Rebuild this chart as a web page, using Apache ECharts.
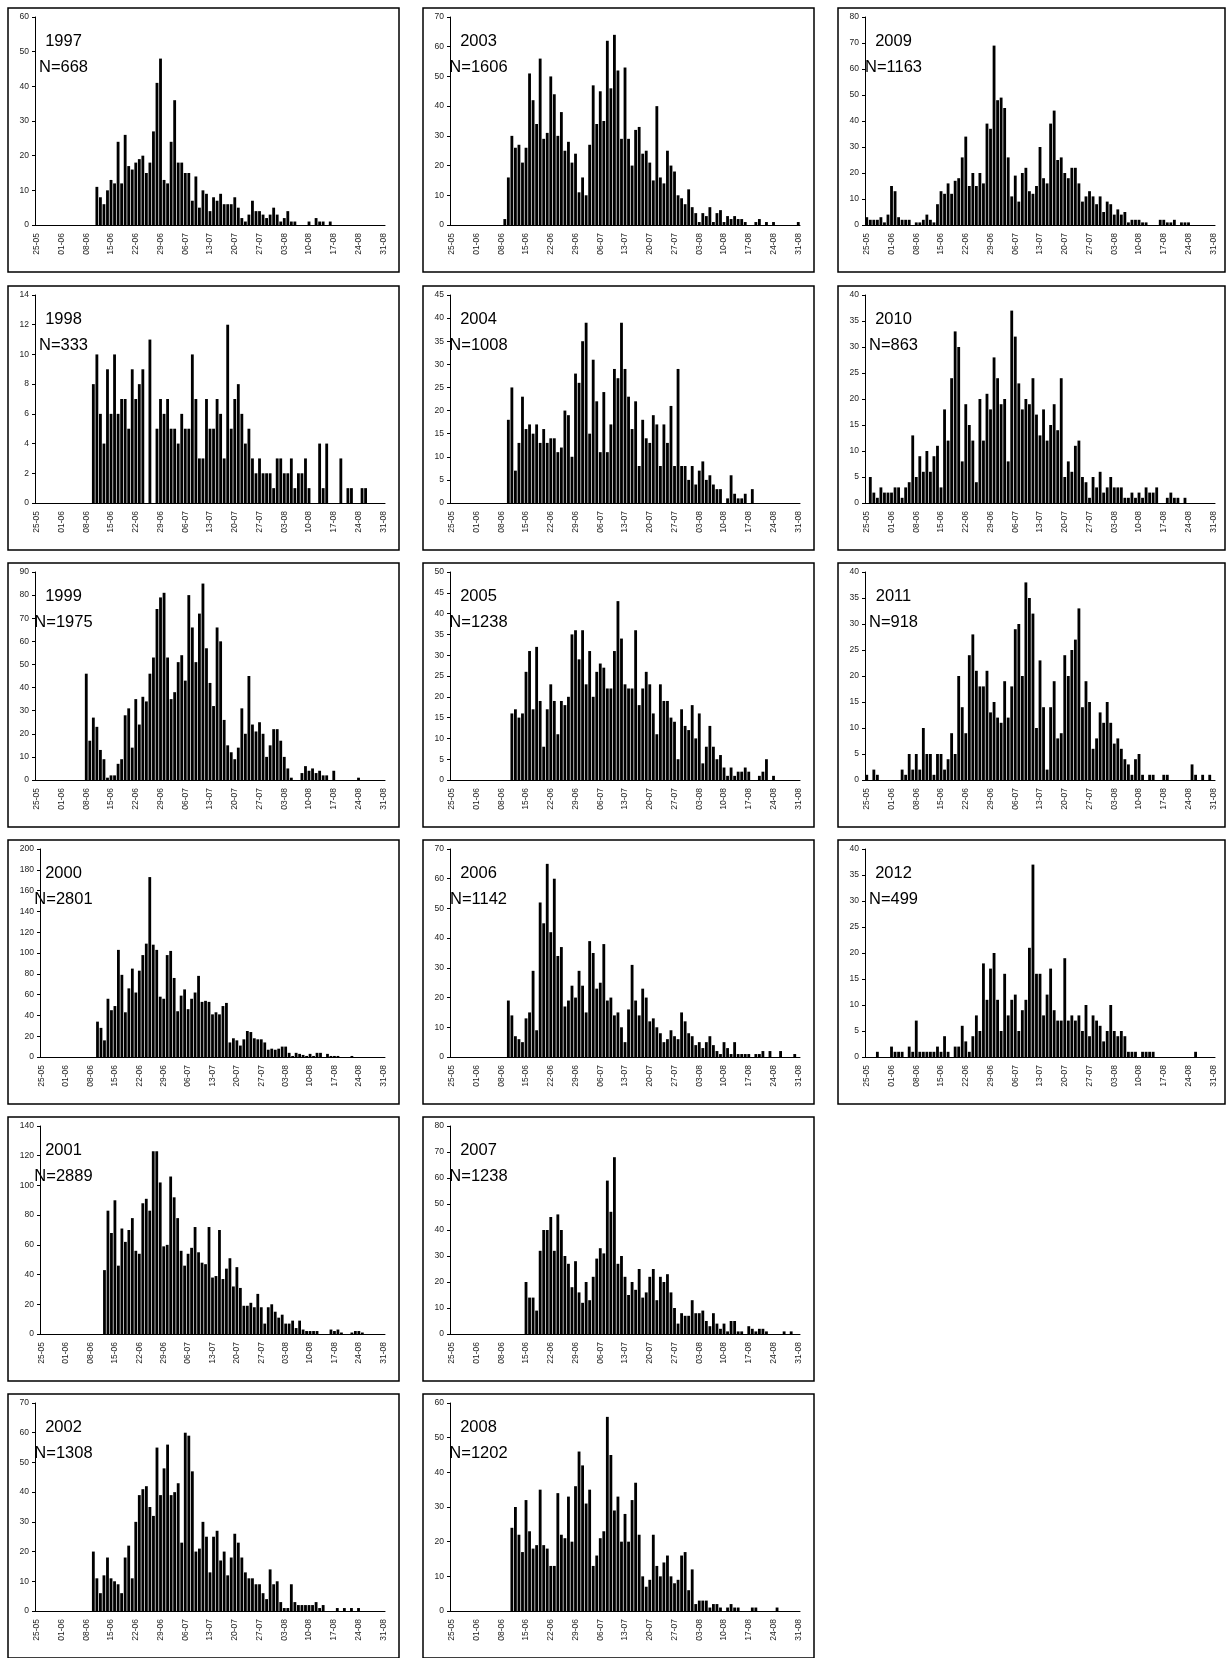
<!DOCTYPE html>
<html>
<head>
<meta charset="utf-8">
<script src="https://cdn.jsdelivr.net/npm/echarts@6/dist/echarts.min.js"></script>
<style>
  html, body { margin: 0; padding: 0; background: #fff; }
  #main { width: 1226px; height: 1658px; }
</style>
</head>
<body>
<div id="main"></div>
<script>
// daily counts, each array starts at day index firstDay[k] (0 = 25-05)
var years    = [1997, 1998, 1999, 2000, 2001, 2002, 2003, 2004, 2005, 2006, 2007, 2008, 2009, 2010, 2011, 2012];
var nLabels  = [668, 333, 1975, 2801, 2889, 1308, 1606, 1008, 1238, 1142, 1238, 1202, 1163, 863, 918, 499];
var yMax     = [60, 14, 90, 200, 140, 70, 70, 45, 50, 70, 80, 60, 80, 40, 40, 40];
var yStep    = [10, 2, 10, 20, 20, 10, 10, 5, 5, 10, 10, 10, 10, 5, 5, 5];
var firstDay = [17, 16, 14, 16, 18, 16, 15, 16, 17, 16, 21, 17, 0, 1, 0, 0];

var v1997 = [11,8,6,10,13,12,24,12,26,17, 16,18,19,20,15,18,27,41,48,13, 12,24,36,18,18,15,15,7,14,5,
  10,9,4,8,7,9,6,6,6,8, 5,2,1,3,7,4,4,3,2,3, 5,3,1,2,4,1,1,0,0,0, 1,0,2,1,1,0,1];
var v1998 = [8,10,6,4,9,6,10,6,7,7, 5,9,7,8,9,0,11,0,5,7, 6,7,5,5,4,6,5,5,10,7, 3,3,7,5,5,7,6,3,12,5,
  7,8,6,4,5,3,2,3,2,2, 2,1,3,3,2,2,3,1,2,2, 3,1,0,0,4,1,4,0,0,0, 3,0,1,1,0,0,1,1];
var v1999 = [46,17,27,23,13,9,1,2,2,7, 9,28,31,14,35,24,36,34,46,53, 74,79,81,53,35,38,51,54,43,80,
  66,51,72,85,57,42,32,66,60,26, 15,12,9,14,31,20,45,24,21,25, 20,10,15,22,22,17,10,5,1,0,
  0,3,6,4,5,3,4,2,2,0, 4,0,0,0,0,0,0,1];
var v2000 = [34,28,16,56,45,49,103,79,43,66, 85,62,83,98,109,173,108,103,58,56, 98,102,76,44,59,65,46,56,62,78,
  53,54,53,41,43,41,49,52,14,18, 16,11,17,25,24,18,17,17,14,7, 8,7,8,10,10,4,1,4,3,2,
  1,3,1,4,4,0,3,1,1,1, 0,0,0,1];
var v2001 = [43,83,68,90,46,71,62,70,78,56, 54,88,91,83,123,123,102,59,60,106, 92,78,56,46,54,58,72,55,48,47,
  72,38,39,70,37,44,51,32,45,31, 19,19,21,18,27,18,7,18,20,15, 11,13,7,7,9,4,9,3,2,2,
  2,2,0,0,0,3,2,3,1,0, 0,1,2,2,1];
var v2002 = [20,11,6,12,18,11,10,9,6,18, 22,11,30,39,41,42,35,32,55,39, 48,56,39,40,43,23,60,59,47,20,
  21,30,25,13,25,27,17,20,12,18, 26,23,18,13,11,11,9,9,6,4, 14,9,10,3,1,1,9,3,2,2,
  2,2,2,3,1,2,0,0,0,1, 0,1,0,1,0,1];
var v2003 = [2,16,30,26,27,21,26,51,42,34, 56,29,31,50,44,30,38,25,28,21, 24,11,16,10,27,47,34,45,35,62,
  46,64,52,29,53,29,20,32,33,24, 25,21,15,40,16,14,25,20,18,10, 9,7,12,6,4,1,4,3,6,1,
  4,5,1,3,2,3,2,2,1,0, 0,1,2,0,1,0,1,0,0,0, 0,0,0,1];
var v2004 = [18,25,7,13,23,16,17,15,17,13, 16,13,14,14,11,12,20,19,10,28, 26,35,39,15,31,22,11,24,11,17,
  29,27,39,29,23,16,22,8,18,14, 13,19,17,8,17,13,21,8,29,8, 8,5,8,4,7,9,5,6,4,3,
  3,0,1,6,2,1,1,2,0,3];
var v2005 = [16,17,15,16,26,31,17,32,19,8, 17,23,19,11,19,18,20,35,36,29, 36,23,31,20,26,28,27,22,22,31,
  43,34,23,22,22,36,18,22,26,23, 16,11,23,19,19,15,14,5,17,13, 12,18,10,16,4,8,13,8,5,6,
  3,1,3,1,2,2,3,2,0,0, 1,2,5,0,1];
var v2006 = [19,14,7,6,5,13,15,29,9,52, 45,65,42,60,34,37,17,19,24,20, 29,24,15,39,35,23,25,38,19,20,
  14,15,10,5,16,31,19,14,23,20, 12,13,10,8,5,6,9,7,6,15, 12,8,7,4,5,3,5,7,4,2,
  1,5,3,1,5,1,1,1,1,0, 1,1,2,0,2,0,0,2,0,0, 0,1];
var v2007 = [20,14,14,9,32,40,40,45,32,46, 40,30,27,18,28,16,12,20,13,22, 29,33,31,59,47,68,27,30,22,15,
  20,17,25,14,16,22,25,13,22,20, 23,16,10,4,8,7,7,13,8,8, 9,5,3,8,4,2,4,1,5,5,
  1,1,0,3,2,1,2,2,1,0, 0,0,0,1,0,1];
var v2008 = [24,30,22,17,32,23,18,19,35,19, 18,13,13,34,22,21,33,20,36,46, 42,31,35,13,16,21,23,56,45,29,
  33,20,28,20,32,37,22,10,7,9, 22,13,10,14,16,10,8,9,16,17, 6,12,2,3,3,3,1,2,2,1,
  0,1,2,1,1,0,0,0,1,1, 0,0,0,0,0,1];
var v2009 = [3,2,2,2,3,1,4,15,13,3, 2,2,2,0,1,1,2,4,2,1, 8,13,12,16,12,17,18,26,34,15,
  20,15,20,16,39,37,69,48,49,45, 26,11,19,9,20,22,13,12,15,30, 18,16,39,44,25,26,20,18,22,22,
  16,9,11,13,11,8,11,5,9,8, 4,6,4,5,1,2,2,2,1,1, 0,0,0,2,2,1,1,2,0,1, 1,1];
var v2010 = [5,2,1,3,2,2,2,3,3,1, 3,4,13,5,9,6,10,6,9,11, 3,18,12,24,33,30,8,19,15,12,
  4,20,12,21,18,28,24,19,20,8, 37,32,23,18,20,19,24,17,13,18, 12,15,19,14,24,5,8,6,11,12,
  5,4,1,5,3,6,2,3,5,3, 3,3,1,1,2,1,2,1,3,2, 2,3,0,0,1,2,1,1,0,1];
var v2011 = [1,0,2,1,0,0,0,0,0,0, 2,1,5,2,5,2,10,5,5,1, 5,5,2,4,9,5,20,14,9,24,
  28,21,18,18,21,13,15,12,11,19, 12,18,29,30,20,38,35,32,10,23, 14,2,14,19,8,9,24,20,25,27,
  33,14,19,15,6,8,13,11,15,11, 7,8,6,4,3,1,4,5,1,0, 1,1,0,0,1,1,0,0,0,0, 0,0,3,1,0,1,0,1];
var v2012 = [0,0,0,1,0,0,0,2,1,1, 1,0,2,1,7,1,1,1,1,1, 2,1,4,1,0,2,2,6,3,1,
  4,8,5,18,11,17,20,11,5,16, 8,11,12,5,9,11,21,37,16,16, 8,12,17,9,7,7,19,7,8,7,
  8,5,10,4,8,7,6,3,5,10, 5,4,5,4,1,1,1,0,1,1, 1,1,0,0,0,0,0,0,0,0, 0,0,0,1];

var values = [v1997, v1998, v1999, v2000, v2001, v2002, v2003, v2004,
              v2005, v2006, v2007, v2008, v2009, v2010, v2011, v2012];

// days 25-05 .. 31-08 (99 categories)
var months = [['05', 25, 31], ['06', 1, 30], ['07', 1, 31], ['08', 1, 31]];
var days = [];
months.forEach(function (m) {
  for (var d = m[1]; d <= m[2]; d++) {
    days.push((d < 10 ? '0' + d : '' + d) + '-' + m[0]);
  }
});

var FONT = '"Liberation Sans", Arial, sans-serif';
var colLeft = [8, 423, 838];
var rowTop = [8, 286, 563, 840, 1117, 1394];
var panelW = [391, 391, 387];
var panelH = 264;

var grids = [], xAxes = [], yAxes = [], series = [], graphics = [];

years.forEach(function (yr, k) {
  var col = k < 6 ? 0 : (k < 12 ? 1 : 2);
  var row = col === 2 ? k - 12 : k % 6;
  var px = colLeft[col], py = rowTop[row];
  var off = yMax[k] >= 100 ? 32 : 27;
  var bw = (373.5 - off) / 98;

  var full = [];
  for (var i = 0; i < days.length; i++) full.push(0);
  values[k].forEach(function (v, j) { full[firstDay[k] + j] = v; });

  grids.push({ left: px + off, top: py + 9, width: bw * 99, height: 208 });

  xAxes.push({
    type: 'category', gridIndex: k, data: days, boundaryGap: true,
    axisLine: { lineStyle: { color: '#000', width: 1 } },
    axisTick: { interval: 6, length: 3, lineStyle: { color: '#000' } },
    axisLabel: { interval: 6, rotate: 90, fontSize: 8.5, color: '#222', margin: 8, fontFamily: FONT }
  });

  yAxes.push({
    type: 'value', gridIndex: k, min: 0, max: yMax[k], interval: yStep[k],
    axisLine: { show: true, lineStyle: { color: '#000', width: 1 } },
    axisTick: { show: true, length: 3, lineStyle: { color: '#000' } },
    splitLine: { show: false },
    axisLabel: { fontSize: 8.5, color: '#222', margin: 6, fontFamily: FONT }
  });

  series.push({
    type: 'bar', xAxisIndex: k, yAxisIndex: k, data: full,
    barCategoryGap: '20%', itemStyle: { color: '#000' }, silent: true
  });

  graphics.push({
    type: 'rect', shape: { x: px, y: py, width: panelW[col], height: panelH },
    style: { fill: 'none', stroke: '#000', lineWidth: 1.5 }, silent: true
  });
  graphics.push({
    type: 'text', x: px + 55.5, y: py + 33,
    style: { text: String(yr), fontSize: 16.5, fontFamily: FONT, fill: '#000',
             align: 'center', verticalAlign: 'middle' }
  });
  graphics.push({
    type: 'text', x: px + 55.5, y: py + 59,
    style: { text: 'N=' + nLabels[k], fontSize: 16.5, fontFamily: FONT, fill: '#000',
             align: 'center', verticalAlign: 'middle' }
  });
});

var chart = echarts.init(document.getElementById('main'));
chart.setOption({
  backgroundColor: '#fff',
  animation: false,
  grid: grids,
  xAxis: xAxes,
  yAxis: yAxes,
  series: series,
  graphic: graphics
});
</script>
</body>
</html>
